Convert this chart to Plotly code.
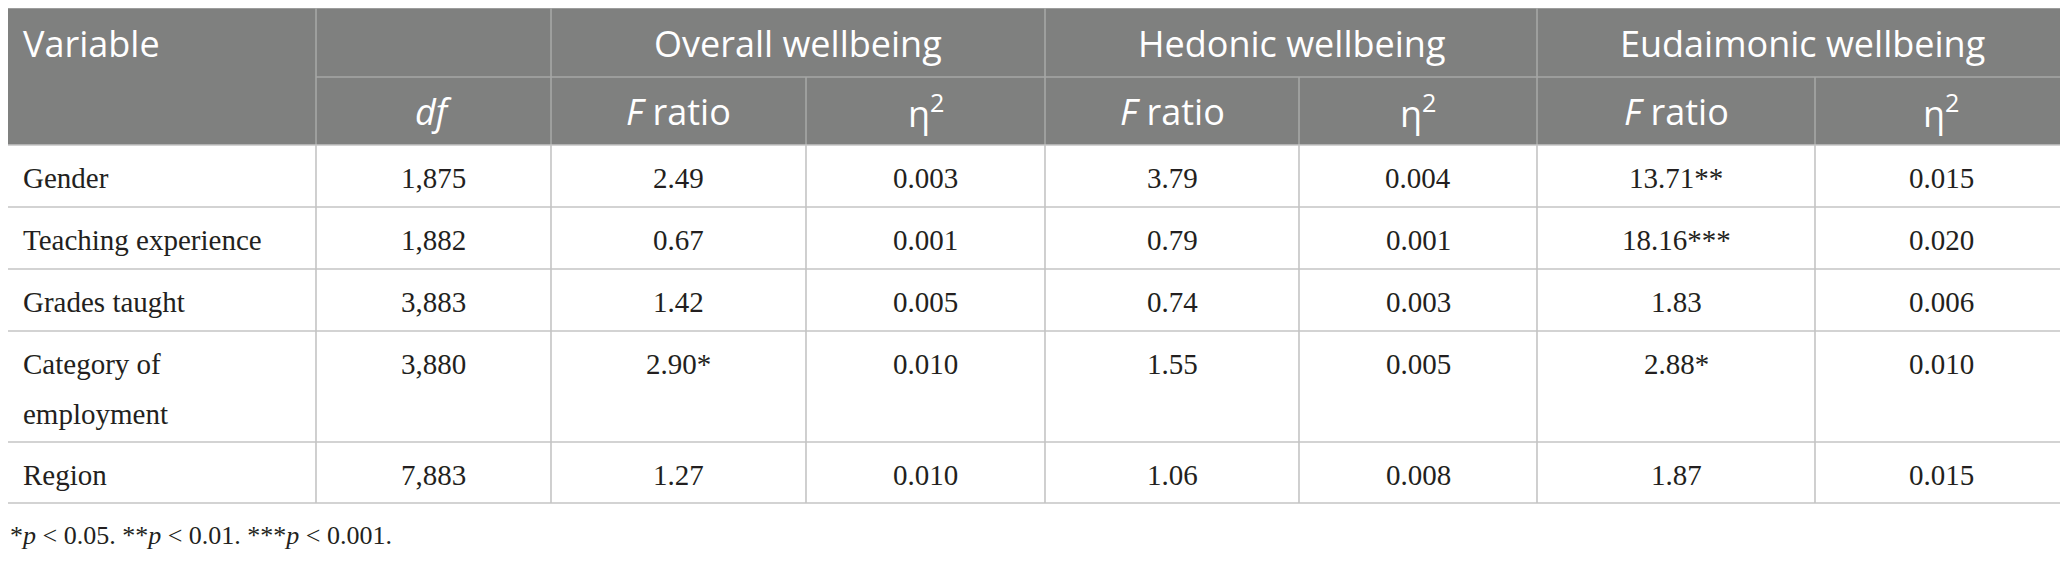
import plotly.graph_objects as go

# table content
groups = ["Overall wellbeing", "Hedonic wellbeing", "Eudaimonic wellbeing"]
sub_headers = ["<i>df</i>", "<i>F</i> ratio", "η<sup>2</sup>", "<i>F</i> ratio", "η<sup>2</sup>",
               "<i>F</i> ratio", "η<sup>2</sup>"]
variables = ["Gender", "Teaching experience", "Grades taught", "Category of<br>employment", "Region"]
df_vals = ["1,875", "1,882", "3,883", "3,880", "7,883"]
overall_f = ["2.49", "0.67", "1.42", "2.90*", "1.27"]
overall_eta = ["0.003", "0.001", "0.005", "0.010", "0.010"]
hedonic_f = ["3.79", "0.79", "0.74", "1.55", "1.06"]
hedonic_eta = ["0.004", "0.001", "0.003", "0.005", "0.008"]
eud_f = ["13.71**", "18.16***", "1.83", "2.88*", "1.87"]
eud_eta = ["0.015", "0.020", "0.006", "0.010", "0.015"]
footnote = "*<i>p</i> &lt; 0.05. **<i>p</i> &lt; 0.01. ***<i>p</i> &lt; 0.001."

# layout geometry (page pixels); the page body has an 8px margin, so the
# figure is shrunk by that and the axis ranges start at 8
W, H = 2068, 562
PAD = 8
col_x = [8, 316, 551, 806, 1045, 1299, 1537, 1815, 2067]
head_y = [8, 77, 145]
row_y = [145, 207, 269, 331, 442, 503]
HEAD_BG = "#7f807f"
HEAD_LINE = "#a6a7a6"
BODY_LINE = "#c4c4c4"
SANS = "Open Sans"
SERIF = "Liberation Serif"
INK = "#231f20"

fig = go.Figure()
shapes = []
ann = []

# header background
shapes.append(dict(type="rect", x0=col_x[0], x1=col_x[-1], y0=head_y[0], y1=head_y[2],
                   fillcolor=HEAD_BG, line=dict(width=0), layer="below"))


def hline(x0, x1, y, color):
    shapes.append(dict(type="line", x0=x0, x1=x1, y0=y, y1=y, line=dict(color=color, width=1.6)))


def vline(x, y0, y1, color):
    shapes.append(dict(type="line", x0=x, x1=x, y0=y0, y1=y1, line=dict(color=color, width=1.6)))


# header grid
hline(col_x[0], col_x[-1], head_y[0], HEAD_LINE)
hline(col_x[1], col_x[-1], head_y[1], HEAD_LINE)
for x in [col_x[1], col_x[2], col_x[4], col_x[6], col_x[-1]]:
    vline(x, head_y[0], head_y[1], HEAD_LINE)
for x in col_x[1:]:
    vline(x, head_y[1], head_y[2], HEAD_LINE)

# body grid
for y in row_y:
    hline(col_x[0], col_x[-1], y, BODY_LINE)
for x in col_x[1:]:
    vline(x, row_y[0], row_y[-1], BODY_LINE)

# header text
ann.append(dict(x=21, y=(head_y[0] + head_y[1]) / 2 + 1, text="Variable",
                xanchor="left", font=dict(family=SANS, size=36, color="white")))
for i, g in enumerate(groups):
    xc = (col_x[2 + 2 * i] + col_x[4 + 2 * i]) / 2
    ann.append(dict(x=xc, y=(head_y[0] + head_y[1]) / 2 + 1, text=g,
                    font=dict(family=SANS, size=36, color="white")))
for i, s in enumerate(sub_headers):
    xc = (col_x[1 + i] + col_x[2 + i]) / 2
    ann.append(dict(x=xc, y=(head_y[1] + head_y[2]) / 2, text=s,
                    font=dict(family=SANS, size=36, color="white")))

# body text
columns = [df_vals, overall_f, overall_eta, hedonic_f, hedonic_eta, eud_f, eud_eta]
for r, name in enumerate(variables):
    top = row_y[r]
    for k, line in enumerate(name.split("<br>")):
        ann.append(dict(x=21, y=top + 33 + 50 * k, text=line, xanchor="left",
                        font=dict(family=SERIF, size=29, color=INK)))
    for c, vals in enumerate(columns):
        xc = (col_x[1 + c] + col_x[2 + c]) / 2
        ann.append(dict(x=xc, y=top + 33, text=vals[r],
                        font=dict(family=SERIF, size=29, color=INK)))

ann.append(dict(x=8, y=535, text=footnote, xanchor="left",
                font=dict(family=SERIF, size=26, color=INK)))

for a in ann:
    a.update(xref="x", yref="y", showarrow=False, yanchor="middle")
    a.setdefault("xanchor", "center")

fig.update_layout(
    width=W - PAD, height=H - PAD,
    margin=dict(l=0, r=0, t=0, b=0),
    paper_bgcolor="white", plot_bgcolor="white",
    xaxis=dict(range=[PAD, W], visible=False, fixedrange=True),
    yaxis=dict(range=[H, PAD], visible=False, fixedrange=True),
    shapes=shapes, annotations=ann, showlegend=False,
)
fig.write_html("out.html")
